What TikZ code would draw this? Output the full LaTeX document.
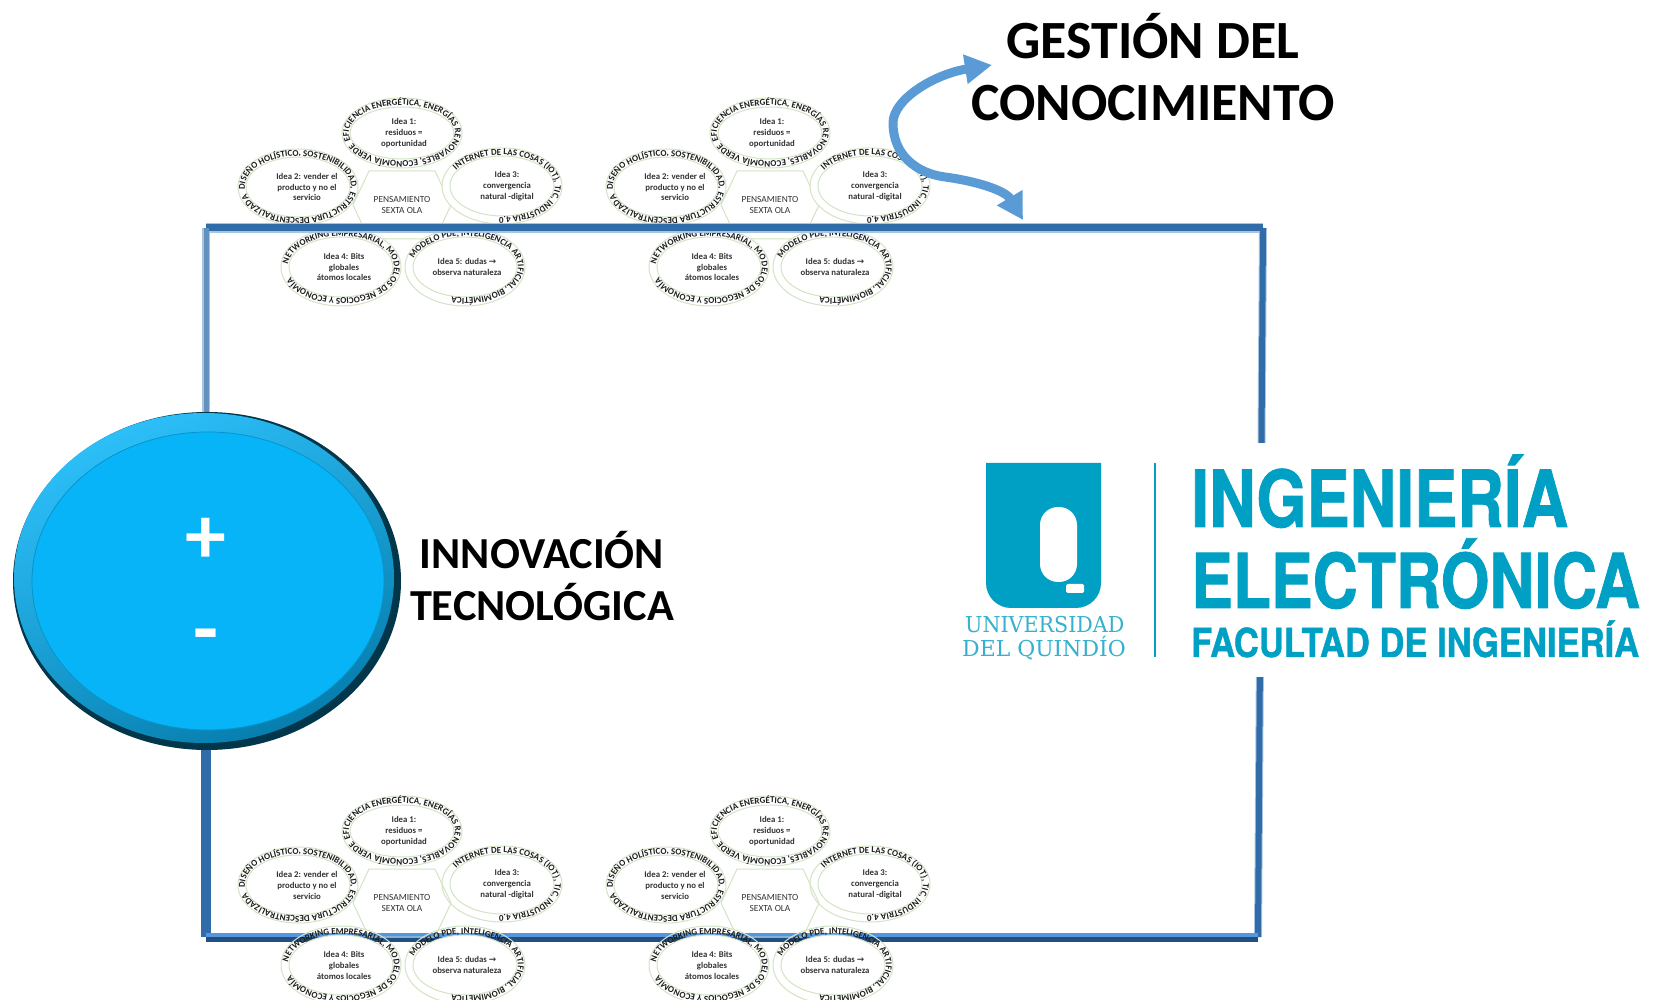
\documentclass[tikz,border=0pt]{standalone}
\usepackage{fontspec}
\setmainfont{Carlito}
\newfontfamily\herosfont[BoldFeatures={FakeBold=1.2}]{TeX Gyre Heros}
\newfontfamily\seriffont{DejaVu Serif}
\newfontfamily\arrowfont{DejaVu Sans}
\usetikzlibrary{shapes.geometric,arrows.meta,decorations.text}
\definecolor{ringgreen}{HTML}{D3E4C5}
\definecolor{ringtextc}{HTML}{1C1C1C}
\definecolor{ideatext}{HTML}{333333}
\definecolor{framedark}{HTML}{2F6CA8}
\definecolor{frameedge}{HTML}{A9C4E0}
\definecolor{framelight}{HTML}{5497DF}
\definecolor{framedeep}{HTML}{234F80}
\definecolor{arrowblue}{HTML}{5B9BD5}
\definecolor{teal}{HTML}{00A0C4}
\definecolor{tealsoft}{HTML}{35B0CE}
\definecolor{ballblue}{HTML}{08B4F8}
\tikzset{
  x=1bp,y=1bp,
  ideatextnode/.style={inner sep=0pt,align=center,text=ideatext,
    font=\bfseries\fontsize{8.8}{11}\selectfont},
  hexlabel/.style={inner sep=0pt,align=center,text=ideatext,
    font=\fontsize{9.4}{11.6}\selectfont},
  ringline/.style={draw=ringgreen,line width=1bp},
  heading/.style={inner sep=0pt,align=center,text=black,
    font=\bfseries\fontsize{54}{63}\selectfont},
  subheading/.style={inner sep=0pt,align=center,text=black,
    font=\bfseries\fontsize{44.5}{53}\selectfont},
  signlabel/.style={inner sep=0pt,text=white,font=\bfseries\fontsize{82}{82}\selectfont},
  logotext/.style={inner sep=0pt,anchor=base west,text=teal},
}
\newcommand{\ringfont}{\bfseries\fontsize{9}{9}\selectfont\color{ringtextc}}
% centre x, centre y, start angle, sweep, y radius, text
\newcommand{\ringtext}[6]{%
  \path[decorate,decoration={text along path,text align=left,text={|\ringfont|#6}}]
    (#1,#2) ++(#3:53bp and #5bp) arc[start angle=#3,delta angle=#4,x radius=53bp,y radius=#5bp];}
% name, x, y, fill of the outer rings
\newcommand{\sextacluster}[4]{%
\begin{scope}[shift={(#2,#3)}]
  \path[ringline,fill=#4,line join=round] (-49,0) -- (-33,34) -- (33,34) -- (49,0) -- (33,-34) -- (-33,-34) -- cycle;
  \node[hexlabel] (#1hex) at (0,0) {PENSAMIENTO\\SEXTA OLA};
  \path[ringline,fill=#4] (0,72) ellipse [x radius=60,y radius=35];
  \path[ringline,fill=#4] (-104,18) ellipse [x radius=60,y radius=38];
  \path[ringline,fill=#4] (100,19) ellipse [x radius=60,y radius=38];
  \path[ringline,fill=#4] (-61,-62) ellipse [x radius=60,y radius=39];
  \path[ringline,fill=#4] (63,-62) ellipse [x radius=60,y radius=39];
  \path[ringline,fill=white] (0,72) ellipse [x radius=52,y radius=26];
  \path[ringline,fill=white] (-104,18) ellipse [x radius=52,y radius=30];
  \path[ringline,fill=white] (100,19) ellipse [x radius=52,y radius=30];
  \path[ringline,fill=white] (-61,-62) ellipse [x radius=52,y radius=30];
  \path[ringline,fill=white] (63,-62) ellipse [x radius=52,y radius=30];
  \node[ideatextnode] (#1top) at (2,72) {Idea 1:\\residuos =\\oportunidad};
  \node[ideatextnode] (#1left) at (-95,18) {Idea 2: vender el\\producto y no el\\servicio};
  \node[ideatextnode] (#1right) at (105,19) {Idea 3:\\convergencia\\natural -digital};
  \node[ideatextnode] (#1lowl) at (-58,-62) {Idea 4: Bits\\globales\\átomos locales};
  \node[ideatextnode] (#1lowr) at (65,-62) {Idea 5: dudas {\arrowfont→}\\observa naturaleza};
  \ringtext{0}{72}{195}{-358}{28}{EFICIENCIA ENERGÉTICA, ENERGÍAS RENOVABLES, ECONOMÍA VERDE}
  \ringtext{-104}{18}{185}{-358}{31}{DISEÑO HOLÍSTICO, SOSTENIBILIDAD, ESTRUCTURA DESCENTRALIZADA}
  \ringtext{100}{19}{150}{-300}{31}{INTERNET DE LAS COSAS (IOT), TIC, INDUSTRIA 4.0}
  \ringtext{-61}{-62}{175}{-340}{31}{NETWORKING EMPRESARIAL, MODELOS DE NEGOCIOS Y ECONOMÍA}
  \ringtext{63}{-62}{165}{-320}{31}{MODELO PDE, INTELIGENCIA ARTIFICIAL, BIOMIMÉTICA}
\end{scope}}
\begin{document}
\begin{tikzpicture}
\useasboundingbox (0,0) rectangle (1657,999);
\clip (0,0) rectangle (1657,999);
\fill[white] (0,0) rectangle (1657,999);

\sextacluster{a}{402}{794}{white}
\sextacluster{b}{770}{794}{white}

% frame
\coordinate (tl) at (206,771);
\coordinate (tr) at (1263,771);
\coordinate (br) at (1258,62);
\coordinate (bl) at (206,62);
\draw[frameedge,line width=10bp,line cap=square] (tl) -- (tr);
\draw[frameedge,line width=8bp] (tl) -- (206,418);
\draw[frameedge,line width=8bp] (tr) -- (br);
\draw[framedark,line width=7bp,line cap=square] (tl) -- (tr);
\draw[framedark!75!white,line width=5bp] (tl) -- (206,418);
\draw[framedark,line width=6bp] (tr) -- (br);
\draw[framedark,line width=10bp,line cap=square] (bl) -- (206,418);
\draw[framedeep,line width=9bp,line cap=square] (bl) -- (br);
\draw[framelight,line width=4bp] ([yshift=2bp]bl) -- ([yshift=2bp]br);

\sextacluster{c}{402}{96}{none}
\sextacluster{d}{770}{96}{none}

% battery
\fill[black!70!ballblue] (207,418) ellipse [x radius=194,y radius=169];
\shade[top color=ballblue!85!white,bottom color=ballblue!70!black,shading angle=25] (204,421) ellipse [x radius=190,y radius=165];
\node[ellipse,draw=ballblue!82!black,line width=.8bp,fill=ballblue,minimum width=352bp,minimum height=298bp,inner sep=0pt] (battery) at (208,418) {};
\node[signlabel] (plus) at (206,458) {+};
\node[signlabel] (minus) at (206,356) {-};
\node[subheading] (innov) at (542,423) {INNOVACIÓN\\TECNOLÓGICA};

% logo
\fill[white] (925,322) rectangle (1657,556);
\fill[teal] (986,536) -- (1101,536) -- (1101,416) arc[start angle=0,delta angle=-90,radius=25] -- (1011,391) arc[start angle=270,delta angle=-90,radius=25] -- cycle;
\fill[white,rounded corners=18bp] (1040,492) rectangle (1077,417);
\fill[white,rounded corners=1.5bp] (1066,415) rectangle (1084,406);
\draw[teal,line width=2.5bp] (1155,536) -- (1155,342);
\node[logotext] (ing) at (1191,472) {\scalebox{.82}[1]{\herosfont\bfseries\fontsize{79}{79}\selectfont INGENIERÍA}};
\node[logotext] (ele) at (1191,391) {\scalebox{.825}[1]{\herosfont\bfseries\fontsize{76}{76}\selectfont ELECTRÓNICA}};
\node[logotext] (fac) at (1191,342) {\scalebox{.868}[1]{\herosfont\bfseries\fontsize{40}{40}\selectfont FACULTAD DE INGENIERÍA}};
\node[logotext,text=tealsoft] (uni) at (965,366) {\scalebox{.94}[1]{\seriffont\fontsize{22}{22}\selectfont UNIVERSIDAD}};
\node[logotext,text=tealsoft] (del) at (962,342) {\scalebox{1}[1]{\seriffont\fontsize{22}{22}\selectfont DEL QUINDÍO}};

% heading and double arrow
\node[heading] (gestion) at (1153,932) {GESTIÓN DEL\\CONOCIMIENTO};
\coordinate (arrowtop) at (992,934);
\coordinate (arrowlow) at (1023,779);
\draw[arrowblue,line width=9bp,{Triangle[length=27bp,width=28bp]}-{Triangle[length=26bp,width=28bp]}]
  (arrowtop) .. controls (935,925) and (893,900) .. (893,876)
  .. controls (893,845) and (915,826) .. (945,822)
  .. controls (975,818) and (1005,809) .. (arrowlow);
\end{tikzpicture}
\end{document}
